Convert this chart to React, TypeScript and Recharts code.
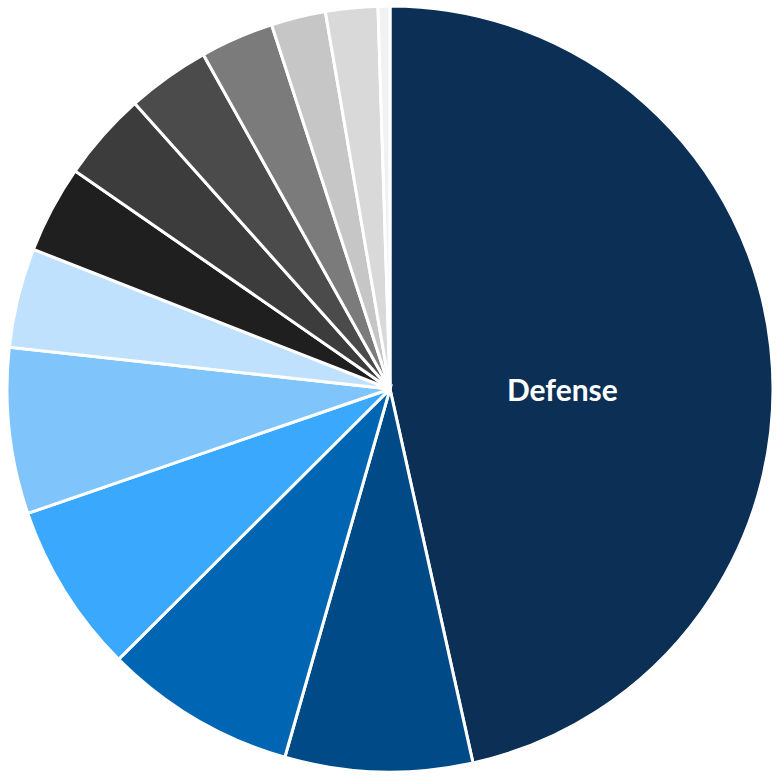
import { PieChart, Pie, Cell } from 'recharts';

const categories = [
  'Defense',
  'Government',
  'Education',
  'Veterans Benefits',
  'Housing & Community',
  'Health',
  'International Affairs',
  'Energy & Environment',
  'Science',
  'Transportation',
  'Social Security',
  'Unemployment & Labor',
  'Food & Agriculture',
];

const shares = [46.5, 7.9, 8.1, 7.2, 7.0, 4.2, 3.7, 3.75, 3.5, 3.1, 2.3, 2.2, 0.5];

const colors = [
  '#0b2f55',
  '#004a87',
  '#0066b4',
  '#3aa8fd',
  '#7fc4fb',
  '#bfe1fd',
  '#1f1f1f',
  '#3c3c3c',
  '#4b4b4b',
  '#7b7b7b',
  '#c6c6c6',
  '#d9d9d9',
  '#f1f1f1',
];

const data = categories.map((name, i) => ({ name, value: shares[i] }));

// only the big slice carries a label, set to the right of the centre
const renderLabel = (props: any) => {
  const { cx, cy, outerRadius, index, name } = props;
  if (index !== 0) return null;
  return (
    <text
      x={cx + outerRadius * 0.45}
      y={cy}
      fill="#ffffff"
      textAnchor="middle"
      dominantBaseline="central"
      fontFamily="Lato, 'Open Sans', sans-serif"
      fontWeight="bold"
      fontSize={30}
    >
      {name}
    </text>
  );
};

const App = () => {
  return (
    <div style={{ position: 'absolute', left: 0, top: 0, width: 778, height: 779, background: '#fff' }}>
      <PieChart width={778} height={779} margin={{ top: 0, right: 0, bottom: 0, left: 0 }}>
        <Pie
          data={data}
          dataKey="value"
          nameKey="name"
          cx={390}
          cy={389}
          outerRadius={383}
          startAngle={90}
          endAngle={-270}
          stroke="#ffffff"
          strokeWidth={3}
          label={renderLabel}
          labelLine={false}
          isAnimationActive={false}
        >
          {data.map((d, i) => (
            <Cell key={d.name} fill={colors[i]} />
          ))}
        </Pie>
      </PieChart>
    </div>
  );
};

export default App;
